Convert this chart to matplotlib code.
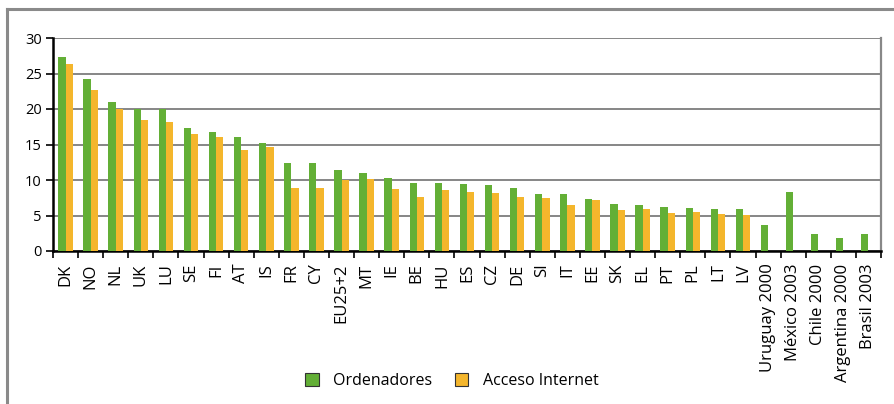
import numpy as np
import matplotlib
matplotlib.use("Agg")
import matplotlib.pyplot as plt
from matplotlib.lines import Line2D
from matplotlib.patches import Patch

categories = ["DK", "NO", "NL", "UK", "LU", "SE", "FI", "AT", "IS", "FR", "CY", "EU25+2",
              "MT", "IE", "BE", "HU", "ES", "CZ", "DE", "SI", "IT", "EE", "SK", "EL",
              "PT", "PL", "LT", "LV", "Uruguay 2000", "México 2003", "Chile 2000",
              "Argentina 2000", "Brasil 2003"]
ordenadores = [27.3, 24.2, 21.0, 20.0, 20.0, 17.3, 16.8, 16.1, 15.2, 12.4, 12.4, 11.4,
               11.0, 10.3, 9.6, 9.6, 9.4, 9.3, 8.9, 8.0, 8.0, 7.3, 6.6, 6.5,
               6.2, 6.1, 5.9, 5.9, 3.7, 8.3, 2.4, 1.8, 2.4]
acceso_internet = [26.3, 22.7, 20.0, 18.5, 18.2, 16.5, 16.1, 14.2, 14.7, 8.9, 8.9, 10.0,
                   10.1, 8.7, 7.6, 8.6, 8.3, 8.2, 7.6, 7.5, 6.5, 7.2, 5.8, 5.9,
                   5.4, 5.5, 5.2, 5.1, np.nan, np.nan, np.nan, np.nan, np.nan]
yticks = [0, 5, 10, 15, 20, 25, 30]
series_names = ["Ordenadores", "Acceso Internet"]

green = "#63af36"
orange = "#f4b62c"

plt.rcParams['font.family'] = ['Open Sans', 'DejaVu Sans']

fig = plt.figure(figsize=(8.94, 4.04), dpi=100)
ax = fig.add_axes([53/894, 1-251/404, (881-53)/894, (251-38)/404])

x = np.arange(len(categories))
w = 0.29
ax.bar(x - w/2, ordenadores, width=w, color=green, zorder=3)
ax.bar(x + w/2, acceso_internet, width=w, color=orange, zorder=3)

ax.set_xlim(-0.5, len(categories) - 0.5)
ax.set_ylim(0, 30)
ax.set_yticks(yticks)
ax.set_yticklabels([str(v) for v in yticks], fontsize=10.5)
ax.yaxis.grid(True, color="#666666", linewidth=1.1, zorder=0)
ax.set_axisbelow(True)

ax.set_xticks(x)
ax.set_xticklabels(categories, rotation=90, fontsize=12)
ax.tick_params(axis='x', length=0, pad=9)
ax.set_xticks(np.arange(len(categories) + 1) - 0.5, minor=True)
ax.tick_params(axis='x', which='minor', length=5, width=1.2, color='black', direction='out')
ax.tick_params(axis='y', length=5, width=1.2, direction='out', pad=3)

ax.spines['top'].set_visible(False)
ax.spines['left'].set_linewidth(1.8)
ax.spines['bottom'].set_linewidth(1.8)
ax.spines['right'].set_color("#888888")
ax.spines['right'].set_linewidth(1.6)

handles = [Patch(facecolor=green, edgecolor="#333333", linewidth=0.8),
           Patch(facecolor=orange, edgecolor="#333333", linewidth=0.8)]
fig.legend(handles, series_names, loc='center', bbox_to_anchor=(452/894, 1-381/404),
           ncol=2, frameon=False, fontsize=11.5, handlelength=0.85, handleheight=0.85,
           columnspacing=1.4, handletextpad=0.9)

# outer frame lines
fig.add_artist(Line2D([7/894, 1.0], [1-9/404, 1-9/404], color="#8a8a8a", linewidth=2.2,
                      transform=fig.transFigure))
fig.add_artist(Line2D([7/894, 7/894], [0, 1-9/404], color="#8a8a8a", linewidth=2.2,
                      transform=fig.transFigure))

fig.savefig("out.png", dpi=100)
